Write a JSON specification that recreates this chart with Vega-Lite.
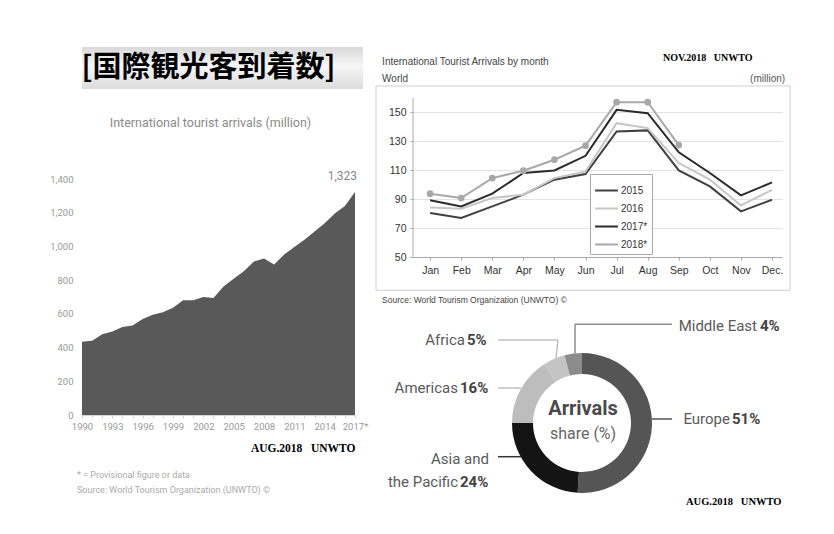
{
  "$schema": "https://vega.github.io/schema/vega-lite/v6.json",
  "background": "white",
  "padding": {"left": 49, "top": 47, "right": 0, "bottom": 0},
  "config": {"view": {"stroke": null}, "font": "Liberation Sans"},
  "datasets": {
    "world": [
      {"year": 1990, "arrivals": 435}, {"year": 1991, "arrivals": 440}, {"year": 1992, "arrivals": 479},
      {"year": 1993, "arrivals": 495}, {"year": 1994, "arrivals": 522}, {"year": 1995, "arrivals": 531},
      {"year": 1996, "arrivals": 570}, {"year": 1997, "arrivals": 594}, {"year": 1998, "arrivals": 610},
      {"year": 1999, "arrivals": 636}, {"year": 2000, "arrivals": 681}, {"year": 2001, "arrivals": 680},
      {"year": 2002, "arrivals": 700}, {"year": 2003, "arrivals": 694}, {"year": 2004, "arrivals": 763},
      {"year": 2005, "arrivals": 809}, {"year": 2006, "arrivals": 853}, {"year": 2007, "arrivals": 911},
      {"year": 2008, "arrivals": 928}, {"year": 2009, "arrivals": 893}, {"year": 2010, "arrivals": 952},
      {"year": 2011, "arrivals": 997}, {"year": 2012, "arrivals": 1040}, {"year": 2013, "arrivals": 1088},
      {"year": 2014, "arrivals": 1137}, {"year": 2015, "arrivals": 1195}, {"year": 2016, "arrivals": 1240},
      {"year": 2017, "arrivals": 1323}
    ],
    "monthly": [
      {"year": "2015", "month": 1, "value": 80.4}, {"year": "2015", "month": 2, "value": 77.0}, {"year": "2015", "month": 3, "value": 85.0},
      {"year": "2015", "month": 4, "value": 93.1}, {"year": "2015", "month": 5, "value": 103.5}, {"year": "2015", "month": 6, "value": 107.4},
      {"year": "2015", "month": 7, "value": 136.9}, {"year": "2015", "month": 8, "value": 137.6}, {"year": "2015", "month": 9, "value": 109.9},
      {"year": "2015", "month": 10, "value": 98.8}, {"year": "2015", "month": 11, "value": 81.6}, {"year": "2015", "month": 12, "value": 89.6},
      {"year": "2016", "month": 1, "value": 84.3}, {"year": "2016", "month": 2, "value": 83.4}, {"year": "2016", "month": 3, "value": 90.8},
      {"year": "2016", "month": 4, "value": 93.1}, {"year": "2016", "month": 5, "value": 104.6}, {"year": "2016", "month": 6, "value": 109.2},
      {"year": "2016", "month": 7, "value": 142.6}, {"year": "2016", "month": 8, "value": 139.2}, {"year": "2016", "month": 9, "value": 115.0},
      {"year": "2016", "month": 10, "value": 103.5}, {"year": "2016", "month": 11, "value": 85.7}, {"year": "2016", "month": 12, "value": 96.5},
      {"year": "2017*", "month": 1, "value": 89.2}, {"year": "2017*", "month": 2, "value": 85.0}, {"year": "2017*", "month": 3, "value": 93.8},
      {"year": "2017*", "month": 4, "value": 108.1}, {"year": "2017*", "month": 5, "value": 109.9}, {"year": "2017*", "month": 6, "value": 120.0},
      {"year": "2017*", "month": 7, "value": 151.8}, {"year": "2017*", "month": 8, "value": 149.5}, {"year": "2017*", "month": 9, "value": 122.4},
      {"year": "2017*", "month": 10, "value": 108.1}, {"year": "2017*", "month": 11, "value": 92.6}, {"year": "2017*", "month": 12, "value": 101.6},
      {"year": "2018*", "month": 1, "value": 93.8}, {"year": "2018*", "month": 2, "value": 90.8}, {"year": "2018*", "month": 3, "value": 104.6},
      {"year": "2018*", "month": 4, "value": 109.7}, {"year": "2018*", "month": 5, "value": 117.3}, {"year": "2018*", "month": 6, "value": 127.0},
      {"year": "2018*", "month": 7, "value": 157.1}, {"year": "2018*", "month": 8, "value": 157.1}, {"year": "2018*", "month": 9, "value": 127.4}
    ],
    "regions": [
      {"region": "Europe", "share": 0.51, "order": 1},
      {"region": "Asia and the Pacific", "share": 0.24, "order": 2},
      {"region": "Americas", "share": 0.16, "order": 3},
      {"region": "Africa", "share": 0.05, "order": 4},
      {"region": "Middle East", "share": 0.04, "order": 5}
    ]
  },
  "spacing": 7,
  "resolve": {"scale": {"color": "independent"}, "legend": {"color": "independent"}},
  "hconcat": [
    {
      "vconcat": [
        {
          "width": 281,
          "height": 42,
          "view": {"stroke": null, "fill": {"gradient": "linear", "x1": 0, "y1": 0, "x2": 0, "y2": 1, "stops": [{"offset": 0, "color": "#d8d8d8"}, {"offset": 0.45, "color": "#f6f6f6"}, {"offset": 1, "color": "#dcdcdc"}]}},
          "title": {"text": "International tourist arrivals (million)", "orient": "bottom", "anchor": "middle", "offset": 28, "dx": -12, "font": "Roboto", "fontSize": 12.5, "fontWeight": "normal", "color": "#8a8a8a"},
          "data": {"values": [{"label": "[国際観光客到着数]"}]},
          "mark": {"type": "text", "font": "Noto Sans CJK JP", "fontSize": 29, "fontWeight": "bold", "color": "#000000", "baseline": "middle", "dx": -14},
          "encoding": {"text": {"field": "label"}}
        },
        {
          "width": 273,
          "height": 236,
          "data": {"name": "world"},
          "title": {"text": "* = Provisional figure or data", "subtitle": "Source: World Tourism Organization (UNWTO) ©", "orient": "bottom", "anchor": "start", "frame": "group", "offset": 17, "dx": -5, "font": "Roboto", "fontSize": 9, "fontWeight": "normal", "color": "#aaaaaa", "subtitleFont": "Roboto", "subtitleFontSize": 9, "subtitleColor": "#aaaaaa", "subtitlePadding": 6},
          "layer": [
            {
              "mark": {"type": "area", "color": "#595959", "opacity": 1},
              "encoding": {
                "x": {"field": "year", "type": "quantitative", "scale": {"domain": [1990, 2017], "nice": false, "zero": false},
                  "axis": {"values": [1990,1991,1992,1993,1994,1995,1996,1997,1998,1999,2000,2001,2002,2003,2004,2005,2006,2007,2008,2009,2010,2011,2012,2013,2014,2015,2016,2017],
                    "tickCount": 40, "format": "d", "labelExpr": "datum.value == 2017 ? '2017*' : ((datum.value - 1990) % 3 == 0 ? datum.label : '')",
                    "grid": false, "domain": true, "domainColor": "#d4d4d4", "ticks": true, "tickColor": "#d4d4d4", "tickSize": 3,
                    "labelFont": "Roboto", "labelFontSize": 9.5, "labelColor": "#999999", "labelPadding": 3, "labelFlush": false, "labelOverlap": false,
                    "title": "AUG.2018\u00a0\u00a0 UNWTO", "titleFont": "Liberation Serif", "titleFontSize": 11.5, "titleFontWeight": "bold", "titleColor": "#000000", "titleAnchor": "end", "titlePadding": 12}},
                "y": {"field": "arrivals", "type": "quantitative", "scale": {"domain": [0, 1400], "nice": false},
                  "axis": {"values": [0, 200, 400, 600, 800, 1000, 1200, 1400], "tickCount": 20, "format": ",d", "grid": false, "domain": false, "ticks": false, "labelOverlap": false,
                    "labelFont": "Roboto", "labelFontSize": 9.5, "labelColor": "#999999", "labelPadding": 9, "title": null}}
              }
            },
            {
              "transform": [{"filter": "datum.year == 2017"}],
              "mark": {"type": "text", "font": "Roboto", "fontSize": 12, "color": "#888888", "align": "right", "dx": 2, "dy": -16, "baseline": "middle"},
              "encoding": {
                "x": {"field": "year", "type": "quantitative"},
                "y": {"field": "arrivals", "type": "quantitative"},
                "text": {"field": "arrivals", "type": "quantitative", "format": ",d"}
              }
            }
          ]
        }
      ],
      "spacing": 39
    },
    {
      "resolve": {"scale": {"color": "independent"}, "legend": {"color": "independent"}},
      "vconcat": [
        {
          "width": 369,
          "height": 210,
          "layer": [
            {
              "data": {"name": "monthly"},
              "mark": {"type": "line", "strokeWidth": 2},
              "encoding": {
                "x": {"field": "month", "type": "quantitative", "scale": {"domain": [0.45, 12.32], "nice": false, "zero": false},
                  "axis": {"values": [1,2,3,4,5,6,7,8,9,10,11,12], "tickCount": 20, "labelExpr": "['Jan','Feb','Mar','Apr','May','Jun','Jul','Aug','Sep','Oct','Nov','Dec.'][datum.value - 1]",
                    "grid": false, "domainColor": "#aaaaaa", "tickColor": "#aaaaaa", "tickSize": 3, "labelFont": "Liberation Sans", "labelFontSize": 10.5, "labelColor": "#333333", "labelPadding": 5, "labelFlush": false, "labelOverlap": false, "title": null}},
                "y": {"field": "value", "type": "quantitative", "scale": {"domain": [50, 195.28], "nice": false, "zero": false},
                  "axis": {"values": [50, 70, 90, 110, 130, 150], "tickCount": 20, "grid": true, "gridColor": "#e2e2e2", "domain": false, "tickColor": "#aaaaaa", "tickSize": 3, "labelOverlap": false,
                    "labelFont": "Liberation Sans", "labelFontSize": 10.5, "labelColor": "#333333", "labelPadding": 4, "title": null}},
                "color": {"field": "year", "type": "nominal",
                  "scale": {"domain": ["2015", "2016", "2017*", "2018*"], "range": ["#404040", "#c6c6c6", "#2a2a2a", "#a8a8a8"]},
                  "legend": {"orient": "none", "legendX": 177, "legendY": 127, "title": null, "symbolType": "stroke", "symbolSize": 520, "symbolStrokeWidth": 2,
                    "labelFont": "Liberation Sans", "labelFontSize": 10, "labelColor": "#333333", "fillColor": "white", "strokeColor": "#aaaaaa", "padding": 4, "rowPadding": 0, "labelOffset": 2}}
              }
            },
            {
              "data": {"name": "monthly"},
              "transform": [{"filter": "datum.year == '2018*'"}],
              "mark": {"type": "circle", "size": 45, "opacity": 1, "color": "#a8a8a8"},
              "encoding": {
                "x": {"field": "month", "type": "quantitative", "scale": {"domain": [0.45, 12.32], "nice": false, "zero": false}},
                "y": {"field": "value", "type": "quantitative", "scale": {"domain": [50, 195.28], "nice": false, "zero": false}}
              }
            },
            {
              "data": {"values": [{}]},
              "mark": {"type": "rect", "filled": false, "color": "#cfcfcf", "strokeWidth": 1},
              "encoding": {
                "x": {"datum": -0.74, "type": "quantitative", "scale": {"domain": [0.45, 12.32], "nice": false, "zero": false}},
                "x2": {"datum": 12.58},
                "y": {"datum": 168.3, "type": "quantitative", "scale": {"domain": [50, 195.28], "nice": false, "zero": false}},
                "y2": {"datum": 27.0}
              }
            },
            {
              "data": {"values": [{}]},
              "mark": {"type": "rule", "color": "#aaaaaa", "strokeWidth": 1},
              "encoding": {
                "x": {"datum": 0.45, "type": "quantitative", "scale": {"domain": [0.45, 12.32], "nice": false, "zero": false}},
                "y": {"datum": 50, "type": "quantitative", "scale": {"domain": [50, 195.28], "nice": false, "zero": false}},
                "y2": {"datum": 160}
              }
            },
            {
              "data": {"values": [{}]},
              "mark": {"type": "text", "text": "International Tourist Arrivals by month", "align": "left", "baseline": "middle", "font": "Liberation Sans", "fontSize": 10, "color": "#444444"},
              "encoding": {
                "x": {"datum": -0.544, "type": "quantitative", "scale": {"domain": [0.45, 12.32], "nice": false, "zero": false}},
                "y": {"datum": 184.6, "type": "quantitative", "scale": {"domain": [50, 195.28], "nice": false, "zero": false}}
              }
            },
            {
              "data": {"values": [{}]},
              "mark": {"type": "text", "text": "World", "align": "left", "baseline": "middle", "font": "Liberation Sans", "fontSize": 10, "color": "#444444"},
              "encoding": {
                "x": {"datum": -0.544, "type": "quantitative", "scale": {"domain": [0.45, 12.32], "nice": false, "zero": false}},
                "y": {"datum": 173.1, "type": "quantitative", "scale": {"domain": [50, 195.28], "nice": false, "zero": false}}
              }
            },
            {
              "data": {"values": [{}]},
              "mark": {"type": "text", "text": "(million)", "align": "right", "baseline": "middle", "font": "Liberation Sans", "fontSize": 10, "color": "#555555"},
              "encoding": {
                "x": {"datum": 12.42, "type": "quantitative", "scale": {"domain": [0.45, 12.32], "nice": false, "zero": false}},
                "y": {"datum": 173.1, "type": "quantitative", "scale": {"domain": [50, 195.28], "nice": false, "zero": false}}
              }
            },
            {
              "data": {"values": [{}]},
              "mark": {"type": "text", "text": "NOV.2018\u00a0\u00a0 UNWTO", "align": "left", "baseline": "middle", "font": "Liberation Serif", "fontWeight": "bold", "fontSize": 10, "color": "#000000"},
              "encoding": {
                "x": {"datum": 8.49, "type": "quantitative", "scale": {"domain": [0.45, 12.32], "nice": false, "zero": false}},
                "y": {"datum": 187.9, "type": "quantitative", "scale": {"domain": [50, 195.28], "nice": false, "zero": false}}
              }
            },
            {
              "data": {"values": [{}]},
              "mark": {"type": "text", "text": "Source: World Tourism Organization (UNWTO) ©", "align": "left", "baseline": "middle", "font": "Liberation Sans", "fontSize": 8.5, "color": "#444444"},
              "encoding": {
                "x": {"datum": -0.544, "type": "quantitative", "scale": {"domain": [0.45, 12.32], "nice": false, "zero": false}},
                "y": {"datum": 20.46, "type": "quantitative", "scale": {"domain": [50, 195.28], "nice": false, "zero": false}}
              }
            }
          ]
        },
        {
          "width": 338,
          "height": 220,
          "layer": [
            {
              "data": {"name": "regions"},
              "mark": {"type": "arc", "innerRadius": 49, "outerRadius": 70},
              "encoding": {
                "theta": {"field": "share", "type": "quantitative", "stack": true},
                "order": {"field": "order", "type": "quantitative"},
                "color": {"field": "region", "type": "nominal",
                  "scale": {"domain": ["Europe", "Asia and the Pacific", "Americas", "Africa", "Middle East"], "range": ["#555555", "#141414", "#bdbdbd", "#c4c4c4", "#8c8c8c"]},
                  "legend": null}
              }
            },
            {"data": {"values": [{}]}, "mark": {"type": "rule", "color": "#8c8c8c", "strokeWidth": 1.5},
             "encoding": {"x": {"datum": -7, "type": "quantitative", "scale": {"domain": [-169, 169], "nice": false, "zero": false}, "axis": null}, "y": {"datum": 69.6, "type": "quantitative", "scale": {"domain": [-110, 110], "nice": false, "zero": false}, "axis": null}, "y2": {"datum": 98.7}}},
            {"data": {"values": [{}]}, "mark": {"type": "rule", "color": "#8c8c8c", "strokeWidth": 1.5},
             "encoding": {"x": {"datum": -7, "type": "quantitative", "scale": {"domain": [-169, 169], "nice": false, "zero": false}, "axis": null}, "x2": {"datum": 90}, "y": {"datum": 98.7, "type": "quantitative", "scale": {"domain": [-110, 110], "nice": false, "zero": false}, "axis": null}}},
            {"data": {"values": [{}]}, "mark": {"type": "rule", "color": "#c0c0c0", "strokeWidth": 1.5},
             "encoding": {"x": {"datum": -84, "type": "quantitative", "scale": {"domain": [-169, 169], "nice": false, "zero": false}, "axis": null}, "x2": {"datum": -24}, "y": {"datum": 83, "type": "quantitative", "scale": {"domain": [-110, 110], "nice": false, "zero": false}, "axis": null}}},
            {"data": {"values": [{}]}, "mark": {"type": "rule", "color": "#c0c0c0", "strokeWidth": 1.5},
             "encoding": {"x": {"datum": -24, "type": "quantitative", "scale": {"domain": [-169, 169], "nice": false, "zero": false}, "axis": null}, "x2": {"datum": -26}, "y": {"datum": 83, "type": "quantitative", "scale": {"domain": [-110, 110], "nice": false, "zero": false}, "axis": null}, "y2": {"datum": 65}}},
            {"data": {"values": [{}]}, "mark": {"type": "rule", "color": "#c0c0c0", "strokeWidth": 1.5},
             "encoding": {"x": {"datum": -84, "type": "quantitative", "scale": {"domain": [-169, 169], "nice": false, "zero": false}, "axis": null}, "x2": {"datum": -61}, "y": {"datum": 35, "type": "quantitative", "scale": {"domain": [-110, 110], "nice": false, "zero": false}, "axis": null}}},
            {"data": {"values": [{}]}, "mark": {"type": "rule", "color": "#555555", "strokeWidth": 1.5},
             "encoding": {"x": {"datum": 70, "type": "quantitative", "scale": {"domain": [-169, 169], "nice": false, "zero": false}, "axis": null}, "x2": {"datum": 90}, "y": {"datum": 4, "type": "quantitative", "scale": {"domain": [-110, 110], "nice": false, "zero": false}, "axis": null}}},
            {"data": {"values": [{}]}, "mark": {"type": "rule", "color": "#333333", "strokeWidth": 1.5},
             "encoding": {"x": {"datum": -84, "type": "quantitative", "scale": {"domain": [-169, 169], "nice": false, "zero": false}, "axis": null}, "x2": {"datum": -61}, "y": {"datum": -33.7, "type": "quantitative", "scale": {"domain": [-110, 110], "nice": false, "zero": false}, "axis": null}}},
            {"data": {"values": [{}]}, "mark": {"type": "text", "text": "Middle East", "align": "right", "baseline": "middle", "font": "Roboto", "fontSize": 15, "color": "#5a5a5a"},
             "encoding": {"x": {"datum": 175, "type": "quantitative", "scale": {"domain": [-169, 169], "nice": false, "zero": false}, "axis": null}, "y": {"datum": 97, "type": "quantitative", "scale": {"domain": [-110, 110], "nice": false, "zero": false}, "axis": null}}},
            {"data": {"values": [{}]}, "mark": {"type": "text", "text": "Africa", "align": "right", "baseline": "middle", "font": "Roboto", "fontSize": 15, "color": "#5a5a5a"},
             "encoding": {"x": {"datum": -117, "type": "quantitative", "scale": {"domain": [-169, 169], "nice": false, "zero": false}, "axis": null}, "y": {"datum": 83, "type": "quantitative", "scale": {"domain": [-110, 110], "nice": false, "zero": false}, "axis": null}}},
            {"data": {"values": [{}]}, "mark": {"type": "text", "text": "Americas", "align": "right", "baseline": "middle", "font": "Roboto", "fontSize": 15, "color": "#5a5a5a"},
             "encoding": {"x": {"datum": -124, "type": "quantitative", "scale": {"domain": [-169, 169], "nice": false, "zero": false}, "axis": null}, "y": {"datum": 35, "type": "quantitative", "scale": {"domain": [-110, 110], "nice": false, "zero": false}, "axis": null}}},
            {"data": {"values": [{}]}, "mark": {"type": "text", "text": "Europe", "align": "right", "baseline": "middle", "font": "Roboto", "fontSize": 15, "color": "#5a5a5a"},
             "encoding": {"x": {"datum": 148, "type": "quantitative", "scale": {"domain": [-169, 169], "nice": false, "zero": false}, "axis": null}, "y": {"datum": 4, "type": "quantitative", "scale": {"domain": [-110, 110], "nice": false, "zero": false}, "axis": null}}},
            {"data": {"values": [{}]}, "mark": {"type": "text", "text": "Asia and", "align": "right", "baseline": "middle", "font": "Roboto", "fontSize": 15, "color": "#5a5a5a"},
             "encoding": {"x": {"datum": -93, "type": "quantitative", "scale": {"domain": [-169, 169], "nice": false, "zero": false}, "axis": null}, "y": {"datum": -36, "type": "quantitative", "scale": {"domain": [-110, 110], "nice": false, "zero": false}, "axis": null}}},
            {"data": {"values": [{}]}, "mark": {"type": "text", "text": "the Pacific", "align": "right", "baseline": "middle", "font": "Roboto", "fontSize": 15, "color": "#5a5a5a"},
             "encoding": {"x": {"datum": -124, "type": "quantitative", "scale": {"domain": [-169, 169], "nice": false, "zero": false}, "axis": null}, "y": {"datum": -58.7, "type": "quantitative", "scale": {"domain": [-110, 110], "nice": false, "zero": false}, "axis": null}}},
            {"data": {"name": "regions"}, "transform": [{"filter": "datum.region == 'Middle East'"}], "mark": {"type": "text", "align": "left", "baseline": "middle", "font": "Roboto", "fontSize": 15, "fontWeight": "bold", "color": "#444444"},
             "encoding": {"text": {"field": "share", "type": "quantitative", "format": ".0%"}, "x": {"datum": 178, "type": "quantitative", "scale": {"domain": [-169, 169], "nice": false, "zero": false}, "axis": null}, "y": {"datum": 97, "type": "quantitative", "scale": {"domain": [-110, 110], "nice": false, "zero": false}, "axis": null}}},
            {"data": {"name": "regions"}, "transform": [{"filter": "datum.region == 'Africa'"}], "mark": {"type": "text", "align": "left", "baseline": "middle", "font": "Roboto", "fontSize": 15, "fontWeight": "bold", "color": "#444444"},
             "encoding": {"text": {"field": "share", "type": "quantitative", "format": ".0%"}, "x": {"datum": -115, "type": "quantitative", "scale": {"domain": [-169, 169], "nice": false, "zero": false}, "axis": null}, "y": {"datum": 83, "type": "quantitative", "scale": {"domain": [-110, 110], "nice": false, "zero": false}, "axis": null}}},
            {"data": {"name": "regions"}, "transform": [{"filter": "datum.region == 'Americas'"}], "mark": {"type": "text", "align": "left", "baseline": "middle", "font": "Roboto", "fontSize": 15, "fontWeight": "bold", "color": "#444444"},
             "encoding": {"text": {"field": "share", "type": "quantitative", "format": ".0%"}, "x": {"datum": -122, "type": "quantitative", "scale": {"domain": [-169, 169], "nice": false, "zero": false}, "axis": null}, "y": {"datum": 35, "type": "quantitative", "scale": {"domain": [-110, 110], "nice": false, "zero": false}, "axis": null}}},
            {"data": {"name": "regions"}, "transform": [{"filter": "datum.region == 'Europe'"}], "mark": {"type": "text", "align": "left", "baseline": "middle", "font": "Roboto", "fontSize": 15, "fontWeight": "bold", "color": "#444444"},
             "encoding": {"text": {"field": "share", "type": "quantitative", "format": ".0%"}, "x": {"datum": 150, "type": "quantitative", "scale": {"domain": [-169, 169], "nice": false, "zero": false}, "axis": null}, "y": {"datum": 4, "type": "quantitative", "scale": {"domain": [-110, 110], "nice": false, "zero": false}, "axis": null}}},
            {"data": {"name": "regions"}, "transform": [{"filter": "datum.region == 'Asia and the Pacific'"}], "mark": {"type": "text", "align": "left", "baseline": "middle", "font": "Roboto", "fontSize": 15, "fontWeight": "bold", "color": "#444444"},
             "encoding": {"text": {"field": "share", "type": "quantitative", "format": ".0%"}, "x": {"datum": -122, "type": "quantitative", "scale": {"domain": [-169, 169], "nice": false, "zero": false}, "axis": null}, "y": {"datum": -58.7, "type": "quantitative", "scale": {"domain": [-110, 110], "nice": false, "zero": false}, "axis": null}}},
            {"data": {"values": [{}]}, "mark": {"type": "text", "text": "Arrivals", "align": "center", "baseline": "middle", "font": "Roboto", "fontSize": 20, "fontWeight": "bold", "color": "#4a4a4a"},
             "encoding": {"x": {"datum": 1, "type": "quantitative", "scale": {"domain": [-169, 169], "nice": false, "zero": false}, "axis": null}, "y": {"datum": 14, "type": "quantitative", "scale": {"domain": [-110, 110], "nice": false, "zero": false}, "axis": null}}},
            {"data": {"values": [{}]}, "mark": {"type": "text", "text": "share (%)", "align": "center", "baseline": "middle", "font": "Roboto", "fontSize": 16, "color": "#666666"},
             "encoding": {"x": {"datum": 1, "type": "quantitative", "scale": {"domain": [-169, 169], "nice": false, "zero": false}, "axis": null}, "y": {"datum": -11, "type": "quantitative", "scale": {"domain": [-110, 110], "nice": false, "zero": false}, "axis": null}}},
            {"data": {"values": [{}]}, "mark": {"type": "text", "text": "AUG.2018\u00a0\u00a0 UNWTO", "align": "left", "baseline": "middle", "font": "Liberation Serif", "fontSize": 10.5, "fontWeight": "bold", "color": "#000000"},
             "encoding": {"x": {"datum": 104, "type": "quantitative", "scale": {"domain": [-169, 169], "nice": false, "zero": false}, "axis": null}, "y": {"datum": -79, "type": "quantitative", "scale": {"domain": [-110, 110], "nice": false, "zero": false}, "axis": null}}}
          ]
        }
      ],
      "spacing": 8
    }
  ]
}
